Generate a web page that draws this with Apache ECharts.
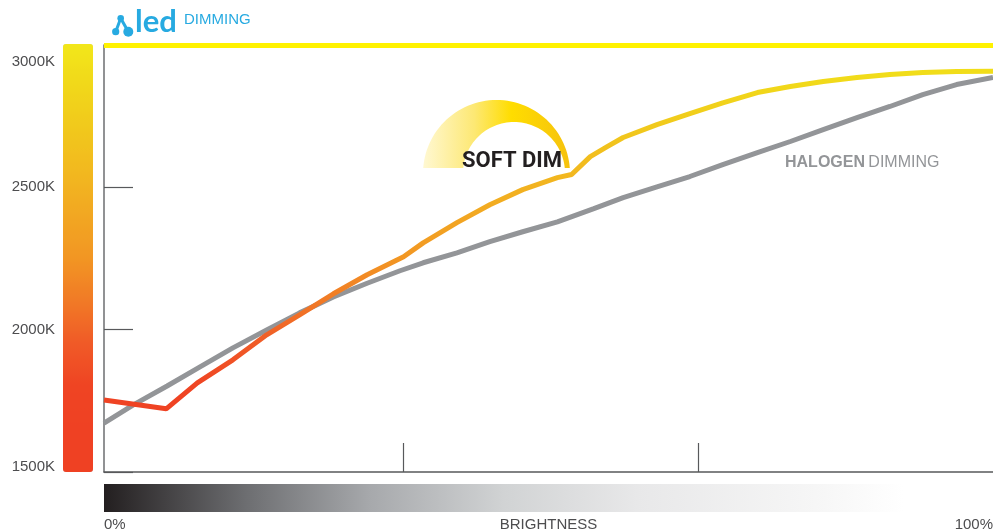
<!DOCTYPE html>
<html><head><meta charset="utf-8">
<script src="https://cdn.jsdelivr.net/npm/echarts@6/dist/echarts.min.js"></script>
<style>html,body{margin:0;padding:0;background:#fff}#c{width:993px;height:532px}</style>
</head><body><div id="c"></div>
<script>
// ---- data ----
const ledX = [0, 7.0, 10.5, 14.5, 18.3, 22.0, 25.8, 29.6, 33.7, 35.9, 39.7, 43.4, 47.1, 51.0, 52.6, 54.7, 56.6, 58.4, 62.2, 65.9, 69.6, 73.5, 77.2, 80.9, 84.7, 88.4, 92.1, 95.9, 100];
const ledK = [1753, 1722, 1813, 1894, 1982, 2052, 2126, 2193, 2256, 2305, 2376, 2439, 2492, 2534, 2545, 2608, 2643, 2675, 2720, 2759, 2797, 2833, 2854, 2872, 2886, 2896, 2903, 2907, 2908];
const halogenX = [0, 3.3, 7.1, 10.8, 14.5, 18.3, 22.0, 25.8, 29.6, 33.3, 35.9, 39.7, 43.4, 47.1, 51.0, 55.1, 58.4, 62.2, 65.9, 69.6, 73.5, 77.2, 80.9, 84.7, 88.4, 92.1, 95.9, 100];
const halogenK = [1672, 1736, 1802, 1869, 1936, 1999, 2059, 2115, 2163, 2207, 2235, 2270, 2309, 2344, 2379, 2425, 2464, 2502, 2538, 2580, 2622, 2661, 2703, 2745, 2784, 2826, 2861, 2886];
const yTickValues = [1500, 2000, 2500, 3000];
const yTickLabels = ['1500K', '2000K', '2500K', '3000K'];
const xTickValues = [33.7, 66.8];
const xEndValues = [0, 100];
const xEndLabels = ['0%', '100%'];
const xAxisTitle = 'BRIGHTNESS';
const ceilingK = 3000;
const tempColors = ['#ef4123', '#ef4123', '#ef4423', '#f05a27', '#f17a26', '#f29623', '#f2a722', '#f2b81f', '#f1c81c', '#f1d71a', '#f2e71a'];

// ---- decoration: soft-dim crescent outline ----
function crescent() {
  const pts = [];
  const oc = [496.5, 173.5], orr = 73.5, ic = [514, 173], ir = 51;
  const a0 = Math.asin(5.5 / orr);
  for (let i = 0; i <= 60; i++) {
    const a = (Math.PI - a0) - (Math.PI - 2 * a0) * i / 60;
    pts.push([oc[0] + orr * Math.cos(a), oc[1] - orr * Math.sin(a)]);
  }
  const b0 = Math.asin(5 / ir);
  for (let i = 0; i <= 60; i++) {
    const a = b0 + (Math.PI - 2 * b0) * i / 60;
    pts.push([ic[0] + ir * Math.cos(a), ic[1] - ir * Math.sin(a)]);
  }
  return pts;
}

const font = "'Liberation Sans', Arial, sans-serif";
const chart = echarts.init(document.getElementById('c'), null, {renderer: 'canvas'});
const option = {
  animation: false,
  backgroundColor: '#ffffff',
  grid: {left: 104, right: 0, top: 45, bottom: 60, containLabel: false, outerBoundsMode: 'none'},
  xAxis: {
    type: 'value', min: 0, max: 100, interval: 100 / 3,
    axisLine: {show: true, lineStyle: {color: '#58595b', width: 1.5}},
    axisTick: {show: true, inside: true, length: 29, customValues: xTickValues, lineStyle: {color: '#58595b', width: 1.2}},
    splitLine: {show: false},
    axisLabel: {
      show: true, margin: 45, fontSize: 15, color: '#4d4d4f', fontFamily: font,
      customValues: xEndValues,
      showMinLabel: true, showMaxLabel: true, alignMinLabel: 'left', alignMaxLabel: 'right',
      formatter: v => v < 1 ? xEndLabels[0] : (v > 99 ? xEndLabels[1] : '')
    },
    name: xAxisTitle, nameLocation: 'middle', nameGap: 45, nameMoveOverlap: false,
    nameTextStyle: {fontSize: 15, color: '#4d4d4f', fontFamily: font}
  },
  yAxis: {
    type: 'value', min: 1500, max: 3000, interval: 500,
    axisLine: {show: true, lineStyle: {color: '#6d6e71', width: 1.5}},
    axisTick: {show: true, inside: true, length: 29, lineStyle: {color: '#58595b', width: 1.2}},
    splitLine: {show: false},
    axisLabel: {
      margin: 49, fontSize: 15, color: '#4d4d4f', fontFamily: font,
      formatter: v => {
        const t = yTickLabels[yTickValues.indexOf(v)] || '';
        if (v === 3000) return '{dn|' + t + '}';
        if (v === 1500) return '{up|' + t + '}';
        return t;
      },
      rich: {
        dn: {padding: [34, 0, 0, 0], fontSize: 15, color: '#4d4d4f', fontFamily: font},
        up: {padding: [0, 0, 10, 0], fontSize: 15, color: '#4d4d4f', fontFamily: font}
      }
    }
  },
  visualMap: {
    type: 'continuous', min: 1500, max: 3000, seriesIndex: 0, dimension: 1,
    orient: 'vertical', left: 63, top: 44, itemWidth: 30, itemHeight: 428,
    calculable: false, hoverLink: false, realtime: false, text: null, showLabel: false, padding: 0,
    inRange: {color: tempColors}
  },
  series: [
    {
      type: 'line', name: 'LED', data: ledX.map((x, i) => [x, ledK[i]]),
      symbol: 'none', showSymbol: false, lineStyle: {width: 5}, z: 4, silent: true
    },
    {
      type: 'line', name: 'Halogen', data: halogenX.map((x, i) => [x, halogenK[i]]),
      symbol: 'none', showSymbol: false, lineStyle: {width: 5, color: '#939598'}, itemStyle: {color: '#939598'}, z: 3, silent: true,
      markLine: {
        silent: true, symbol: ['none', 'none'], label: {show: false},
        lineStyle: {color: '#fff200', width: 5, type: 'solid'},
        data: [{yAxis: ceilingK}]
      }
    }
  ],
  graphic: [
    {
      type: 'rect', shape: {x: 104, y: 484, width: 889, height: 28}, silent: true,
      style: {fill: {type: 'linear', x: 0, y: 0, x2: 1, y2: 0, colorStops: [
        {offset: 0, color: '#231f20'}, {offset: 0.16, color: '#6d6e71'}, {offset: 0.3, color: '#a7a9ac'},
        {offset: 0.45, color: '#d1d3d4'}, {offset: 0.6, color: '#e8e8e9'}, {offset: 0.8, color: '#f6f6f6'},
        {offset: 0.9, color: '#ffffff'}, {offset: 1, color: '#ffffff'}]}}
    },
    {
      type: 'polygon', silent: true, z: 10,
      shape: {points: crescent()},
      style: {fill: {type: 'linear', x: 0, y: 0, x2: 1, y2: 0, colorStops: [
        {offset: 0, color: '#fff8d2'}, {offset: 0.35, color: '#fde873'}, {offset: 0.6, color: '#ffdd00'}, {offset: 1, color: '#f6c20e'}]}}
    },
    {
      type: 'text', silent: true, z: 11, x: 512, y: 161,
      style: {text: 'SOFT DIM', fill: '#231f20', font: "bold 22px Roboto, 'Liberation Sans', sans-serif", align: 'center', verticalAlign: 'middle'}
    },
    {
      type: 'text', silent: true, z: 11, x: 785, y: 163,
      style: {
        text: '{b|HALOGEN} {r|DIMMING}', align: 'left', verticalAlign: 'middle',
        rich: {
          b: {fontWeight: 'bold', fontSize: 16, fill: '#939598', fontFamily: font},
          r: {fontSize: 16, fill: '#939598', fontFamily: font}
        }
      }
    },
    {type: 'line', silent: true, shape: {x1: 120.7, y1: 18.3, x2: 115.7, y2: 31.7}, style: {stroke: '#27aae1', lineWidth: 3}},
    {type: 'line', silent: true, shape: {x1: 120.7, y1: 18.3, x2: 128.3, y2: 31.7}, style: {stroke: '#27aae1', lineWidth: 3}},
    {type: 'circle', silent: true, shape: {cx: 120.7, cy: 18.3, r: 3.3}, style: {fill: '#27aae1'}},
    {type: 'circle', silent: true, shape: {cx: 115.7, cy: 31.7, r: 3.6}, style: {fill: '#27aae1'}},
    {type: 'circle', silent: true, shape: {cx: 128.3, cy: 31.7, r: 5}, style: {fill: '#27aae1'}},
    {
      type: 'text', silent: true, x: 135, y: 37,
      style: {text: 'led', fill: '#27aae1', font: "bold 31px Lato, 'Liberation Sans', sans-serif", align: 'left', verticalAlign: 'bottom'}
    },
    {
      type: 'text', silent: true, x: 184, y: 20,
      style: {text: 'DIMMING', fill: '#27aae1', font: "15px 'Liberation Sans', Arial, sans-serif", align: 'left', verticalAlign: 'middle'}
    }
  ]
};
chart.setOption(option);
</script>
</body></html>
